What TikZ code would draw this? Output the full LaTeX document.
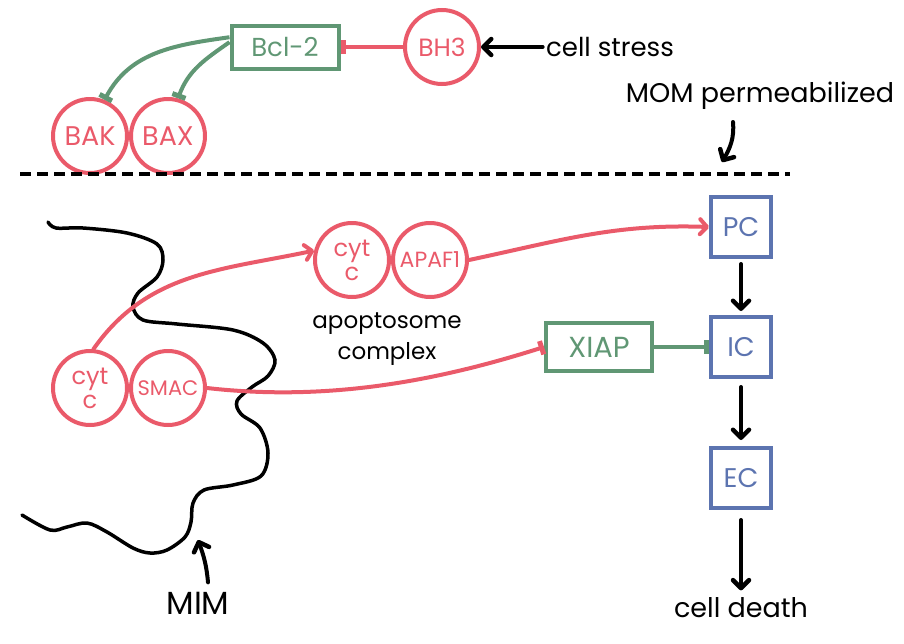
\documentclass[tikz,border=0pt]{standalone}
\usepackage{fontspec}
\setmainfont{Poppins}
\usetikzlibrary{arrows.meta,positioning}
\definecolor{protred}{RGB}{234,90,106}
\definecolor{inhgreen}{RGB}{96,151,116}
\definecolor{caspblue}{RGB}{92,116,176}
\begin{document}
\begin{tikzpicture}[x=1pt, y=1pt,
    mol/.style={circle, draw=protred, line width=4pt, text=protred, minimum size=74pt,
      inner sep=0pt, align=center, font=\fontsize{27}{24}\selectfont},
    inhbox/.style={rectangle, draw=inhgreen, line width=4pt, text=inhgreen,
      font=\fontsize{26}{26}\selectfont},
    casp/.style={rectangle, draw=caspblue, line width=4pt, text=caspblue, minimum size=60pt,
      inner sep=0pt, font=\fontsize{27}{27}\selectfont},
    lbl/.style={text=black, align=center, font=\fontsize{24}{31}\selectfont},
    act/.style={line width=4pt, line cap=round, -{Straight Barb[round, length=7pt, width=15pt]}},
    blk/.style={line width=4pt, line cap=round, -{Straight Barb[round, length=8pt, width=16pt, line width=4.5pt]}},
    inh/.style={line width=4pt, -{Bar[width=14pt, line width=5pt]}}]
    \useasboundingbox (0, -643) rectangle (904, 0);
        % outer membrane side
        \node [inhbox, minimum width=107pt, minimum height=43pt] (bcl2) at (285, -47) {Bcl-2};
        \node [mol, font=\fontsize{25}{25}\selectfont] (bh3) at (442, -47) {BH3};
        \node [mol] (bak) at (90, -136) {BAK};
        \node [mol, right=0pt of bak] (bax) {BAX};
        \node [lbl, font=\fontsize{26}{26}\selectfont] (stress) at (610, -47) {cell stress};
        \node [lbl, font=\fontsize{27}{27}\selectfont] (perm) at (760, -96) {MOM permeabilized};
        \coordinate (momtip) at (722, -162);
        \draw[inh, protred] (bh3) -- (bcl2);
        \draw[inh, inhgreen] (bcl2.170) to[out=188, in=62] (bak.68);
        \draw[inh, inhgreen] (bcl2.175) to[out=215, in=70] (bax.75);
        \draw[blk] (stress) -- (bh3);
        \draw[blk] (733, -122) to[out=-85, in=60] (momtip);
        \draw[line width=4pt, dash pattern=on 11pt off 6pt] (20, -174) -- (790, -174);
        % inner membrane
        \draw[line width=3.5pt, line cap=round] plot[smooth, tension=0.55] coordinates {
            (48,-222) (56,-228) (83,-228) (127,-233) (157,-244) (163,-260) (157,-277)
            (138,-293) (133,-307) (143,-320) (177,-324) (233,-330) (263,-343) (275,-360)
            (268,-376) (252,-387) (237,-401) (241,-414) (260,-428) (268,-453) (261,-476)
            (233,-485) (204,-490) (193,-503) (191,-522) (185,-537) (167,-550) (150,-553)
            (133,-548) (107,-532) (87,-523) (67,-527) (50,-530) (22,-515)};
        \node [lbl, font=\fontsize{32}{32}\selectfont] (mim) at (198, -603) {MIM};
        \coordinate (mimtip) at (198, -540);
        \draw[blk] (mim.north) ++(10, 6) to[out=95, in=-70] (mimtip);
        % intermembrane release
        \node [mol, font=\fontsize{24}{24}\selectfont] (cytt) at (352, -260) {cyt\\c};
        \node [mol, right=0pt of cytt, font=\fontsize{22}{22}\selectfont] (apaf) {APAF1};
        \node [lbl, font=\fontsize{23}{31}\selectfont] (apop) at (387, -339) {apoptosome\\complex};
        \node [mol, font=\fontsize{24}{24}\selectfont] (cytb) at (90, -388) {cyt\\c};
        \node [mol, right=0pt of cytb, font=\fontsize{21}{21}\selectfont] (smac) {SMAC};
        \node [inhbox, minimum width=106pt, minimum height=48pt, font=\fontsize{29}{29}\selectfont] (xiap) at (599, -347) {XIAP};
        \node [casp] (pc) at (741, -227) {PC};
        \node [casp] (ic) at (741, -347) {IC};
        \node [casp] (ec) at (741, -478) {EC};
        \node [lbl, font=\fontsize{27}{27}\selectfont] (death) at (741, -608) {cell death};
        \draw[act, protred] (cytb.85) to[out=55, in=192] (cytt.166);
        \draw[act, protred] (apaf.east) to[out=12, in=178] (pc.west);
        \draw[inh, protred] (smac.east) .. controls (330, -402) and (440, -380) .. (xiap.west);
        \draw[inh, inhgreen] (xiap) -- (ic);
        \draw[blk, shorten <=5pt, shorten >=4pt] (pc) -- (ic);
        \draw[blk, shorten <=8pt, shorten >=6pt] (ic) -- (ec);
        \draw[blk, shorten <=10pt, shorten >=4pt] (ec) -- (death);
\end{tikzpicture}
\end{document}
